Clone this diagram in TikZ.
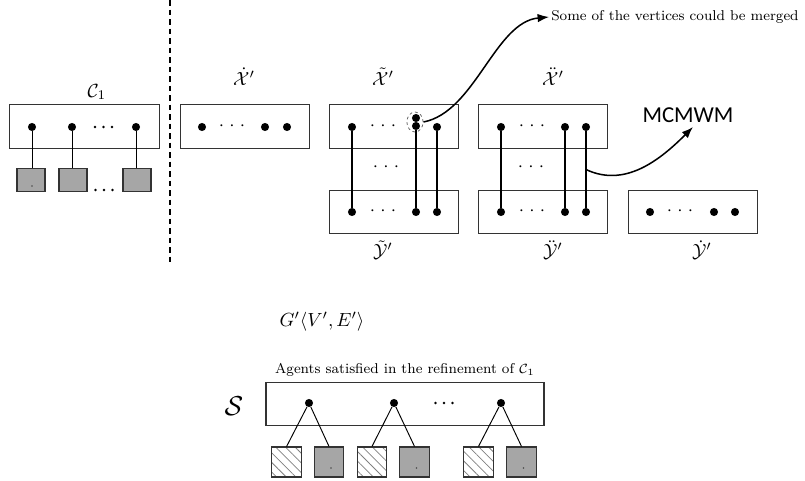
\documentclass[tikz,border=0pt]{standalone}
\usepackage{fontspec}
\newfontfamily\mcmfont{Carlito}
\usepackage{amsmath}
\usetikzlibrary{positioning}
\usetikzlibrary{calc}
\usetikzlibrary{arrows.meta}
\usetikzlibrary{patterns.meta}
\usetikzlibrary{shapes.geometric}
\definecolor{agentgray}{RGB}{166,166,166}
\newcommand{\spreaddots}{$\cdot$\hspace{2.8pt}$\cdot$\hspace{2.8pt}$\cdot$}
\newcommand{\notefont}{\fontsize{7.5}{9}\selectfont}
\tikzset{
    setbox/.style={draw=black!80, line width=0.6pt, rectangle, minimum width=2.37cm, minimum height=0.8cm, inner sep=0pt},
    vtx/.style={circle, fill=black, inner sep=0pt, minimum size=0.15cm},
    agent/.style={draw=black!80, line width=0.6pt, fill=agentgray, inner sep=0pt},
    hatched/.style={draw=black!80, line width=0.6pt, inner sep=0pt,
        pattern={Lines[angle=-45, distance=3.6pt, line width=0.4pt]}, pattern color=black!50},
    matchline/.style={line width=0.9pt},
    link/.style={line width=0.5pt},
    curvy/.style={line width=0.8pt, -{Latex[length=6pt,width=4.5pt]}},
    heavydots/.style={inner sep=0pt, minimum size=1pt,
        append after command={
            \pgfextra{\fill ($(\tikzlastnode)+(-8.5,0)$) circle (0.75pt)
                            (\tikzlastnode) circle (0.75pt)
                            ($(\tikzlastnode)+(8.5,0)$) circle (0.75pt);}}},
}

\begin{document}
\begin{tikzpicture}[x=0.0185cm, y=-0.0185cm]
    \useasboundingbox (0,0) rectangle (805,481);

    % separator
    \draw[line width=1pt, dash pattern=on 3pt off 2pt] (170,0) -- (170,262);

    % coalition C_1
    \node (c1lab) at (97,92) {$\mathcal{C}_1$};
    \node[setbox, minimum width=2.76cm] (c1box) at (84.5,126.5) {};
    \node[vtx] (c1v1) at (32,127) {};
    \node[vtx] (c1v2) at (72,127) {};
    \node[vtx] (c1v3) at (136,127) {};
    \node[heavydots] (c1dots) at (103.5,127) {};
    \node[agent, minimum width=0.52cm, minimum height=0.41cm] (c1a1) at (31,180) {};
    \node[agent, minimum width=0.52cm, minimum height=0.41cm] (c1a2) at (73,180) {};
    \node[agent, minimum width=0.52cm, minimum height=0.41cm] (c1a3) at (137,180) {};
    \node[heavydots] (c1adots) at (104,190) {};
    \fill[black!70] (32,186) circle (0.4pt);
    \draw[link] (c1v1) -- (c1v1 |- c1a1.north);
    \draw[link] (c1v2) -- (c1v2 |- c1a2.north);
    \draw[link] (c1v3) -- (c1v3 |- c1a3.north);

    % X dot
    \node (xdlab) at (244,77) {$\dot{\mathcal{X}}'$};
    \node[setbox] (xdbox) at (245,126.5) {};
    \node[vtx] (xd1) at (202,127) {};
    \node[vtx] (xd2) at (265,127) {};
    \node[vtx] (xd3) at (287,127) {};
    \node (xddots) at (232,126) {\spreaddots};

    % X tilde / Y tilde
    \node (xtlab) at (383,77) {$\tilde{\mathcal{X}}'$};
    \node[setbox] (xtbox) at (394,126.5) {};
    \node[vtx] (xt1) at (352,127) {};
    \node[vtx] (xt2a) at (416,118) {};
    \node[vtx] (xt2b) at (416,126) {};
    \node[vtx] (xt3) at (437,127) {};
    \node (xtdots) at (383,126) {\spreaddots};
    \node[ellipse, draw=black!60, dashed, dash pattern=on 1.5pt off 1.5pt, minimum width=0.3cm, minimum height=0.37cm, inner sep=0pt] (merge) at (415,122) {};

    \node (ytlab) at (383,250) {$\tilde{\mathcal{Y}}'$};
    \node[setbox] (ytbox) at (394,212) {};
    \node[vtx] (yt1) at (352,212) {};
    \node[vtx] (yt2) at (416,212) {};
    \node[vtx] (yt3) at (437,212) {};
    \node (ytdots) at (383,211) {\spreaddots};
    \node (tmid) at (386,167) {\spreaddots};

    \draw[matchline] (xt1) -- (yt1);
    \draw[matchline] (xt2b) -- (yt2);
    \draw[matchline] (xt3) -- (yt3);

    % X ddot / Y ddot
    \node (xxlab) at (553,77) {$\ddot{\mathcal{X}}'$};
    \node[setbox] (xxbox) at (543,126.5) {};
    \node[vtx] (xx1) at (501,127) {};
    \node[vtx] (xx2) at (565,127) {};
    \node[vtx] (xx3) at (586,127) {};
    \node (xxdots) at (532,126) {\spreaddots};

    \node (yylab) at (553,250) {$\ddot{\mathcal{Y}}'$};
    \node[setbox] (yybox) at (543,212) {};
    \node[vtx] (yy1) at (501,212) {};
    \node[vtx] (yy2) at (565,212) {};
    \node[vtx] (yy3) at (586,212) {};
    \node (yydots) at (532,211) {\spreaddots};
    \node (ddmid) at (531,167) {\spreaddots};

    \draw[matchline] (xx1) -- (yy1);
    \draw[matchline] (xx2) -- (yy2);
    \draw[matchline] (xx3) -- (yy3);

    % Y dot
    \node (ydlab) at (702,250) {$\dot{\mathcal{Y}}'$};
    \node[setbox] (ydbox) at (693,212) {};
    \node[vtx] (yd1) at (650,212) {};
    \node[vtx] (yd2) at (714,212) {};
    \node[vtx] (yd3) at (735,212) {};
    \node (yddots) at (680,211) {\spreaddots};

    % annotations
    \node[font=\notefont, anchor=west, inner sep=1pt] (mergetxt) at (549,17) {Some of the vertices could be merged};
    \draw[curvy] (merge.east) .. controls (475,112) and (495,22) .. (mergetxt.west);

    \node[font=\mcmfont\large] (mcm) at (688,115) {MCMWM};
    \coordinate (mcmstart) at ($(xx3)!0.5!(yy3)$);
    \draw[curvy] (mcmstart) .. controls (625,188) and (660,160) .. (693,127);

    \node (glab) at (322,322) {$G'\langle V', E'\rangle$};

    % satisfied agents
    \node[font=\notefont] (stitle) at (405,370) {Agents satisfied in the refinement of $\mathcal{C}_1$};
    \node[font=\Large] (slab) at (234,406) {$\mathcal{S}$};
    \node[setbox, minimum width=5.14cm, minimum height=0.78cm] (sbox) at (405,404) {};
    \node[vtx] (s1) at (309,403) {};
    \node[vtx] (s2) at (394,403) {};
    \node[vtx] (s3) at (501,403) {};
    \node[heavydots] (sdots) at (444,403) {};

    \node[hatched, minimum width=0.54cm, minimum height=0.555cm] (sh1) at (286.5,462) {};
    \node[agent, minimum width=0.54cm, minimum height=0.555cm] (sg1) at (329,462) {};
    \node[hatched, minimum width=0.54cm, minimum height=0.555cm] (sh2) at (372,462) {};
    \node[agent, minimum width=0.54cm, minimum height=0.555cm] (sg2) at (414.5,462) {};
    \node[hatched, minimum width=0.54cm, minimum height=0.555cm] (sh3) at (478.5,462) {};
    \node[agent, minimum width=0.54cm, minimum height=0.555cm] (sg3) at (521.5,462) {};
    \fill[black!70] (331,468) circle (0.4pt);
    \fill[black!70] (416.5,468) circle (0.4pt);
    \fill[black!70] (523.5,468) circle (0.4pt);

    \draw[link] (s1) -- (sh1.north);
    \draw[link] (s1) -- (sg1.north);
    \draw[link] (s2) -- (sh2.north);
    \draw[link] (s2) -- (sg2.north);
    \draw[link] (s3) -- (sh3.north);
    \draw[link] (s3) -- (sg3.north);
\end{tikzpicture}
\end{document}
